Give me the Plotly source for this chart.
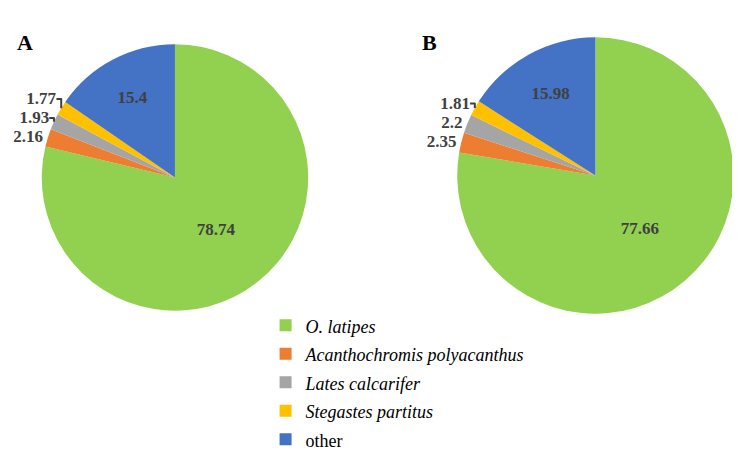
import plotly.graph_objects as go

categories = ["O. latipes", "Acanthochromis polyacanthus", "Lates calcarifer", "Stegastes partitus", "other"]
italic = [True, True, True, True, False]
values_a = [78.74, 2.16, 1.93, 1.77, 15.4]
values_b = [77.66, 2.35, 2.2, 1.81, 15.98]
colors = ["#92D050", "#ED7D31", "#A5A5A5", "#FFC000", "#4472C4"]
text_pos = ["inside", "outside", "outside", "outside", "inside"]

FONT = "Liberation Serif, Times New Roman, serif"
W, H = 732, 457   # page body has an 8px margin
OFF = 8

def lab(c, it):
    t = f"<i>{c}</i>" if it else c
    return f'<span style="font-size:18px">{t}</span>'

labels = [lab(c, it) for c, it in zip(categories, italic)]

def px_x(x):
    return (x - OFF) / W

def px_y(y):
    return 1 - (y - OFF) / H

def pie(values, cx, cy, r, show):
    return go.Pie(
        labels=labels, values=values, sort=False, direction="clockwise", rotation=0,
        marker=dict(colors=colors, line=dict(width=0)),
        texttemplate="<b>%{value}</b>", textposition=text_pos,
        insidetextorientation="horizontal",
        textfont=dict(family=FONT, size=17, color="#404040"),
        insidetextfont=dict(family=FONT, size=17, color="#404040"),
        outsidetextfont=dict(family=FONT, size=17, color="#404040"),
        domain=dict(x=[px_x(cx - r), px_x(cx + r)], y=[px_y(cy + r), px_y(cy - r)]),
        showlegend=show, hoverinfo="label+value",
    )

fig = go.Figure()
fig.add_trace(pie(values_a, 169.5, 177.5, 134.5, True))
fig.add_trace(pie(values_b, 594, 175.5, 139.5, False))

fig.update_layout(
    width=W, height=H, margin=dict(l=0, r=0, t=0, b=0),
    paper_bgcolor="white", plot_bgcolor="white",
    font=dict(family=FONT, color="#000000"),
    legend=dict(x=px_x(261), y=px_y(306), xanchor="left", yanchor="top",
                font=dict(family=FONT, size=19.6, color="#000000"),
                bgcolor="rgba(0,0,0,0)", traceorder="normal"),
    annotations=[
        dict(text="<b>A</b>", x=px_x(18.5), y=px_y(43), xref="paper", yref="paper",
             xanchor="center", yanchor="middle",
             showarrow=False, font=dict(family=FONT, size=22, color="#000000")),
        dict(text="<b>B</b>", x=px_x(426), y=px_y(43), xref="paper", yref="paper",
             xanchor="center", yanchor="middle",
             showarrow=False, font=dict(family=FONT, size=22, color="#000000")),
    ],
)

fig.write_html("out.html")
